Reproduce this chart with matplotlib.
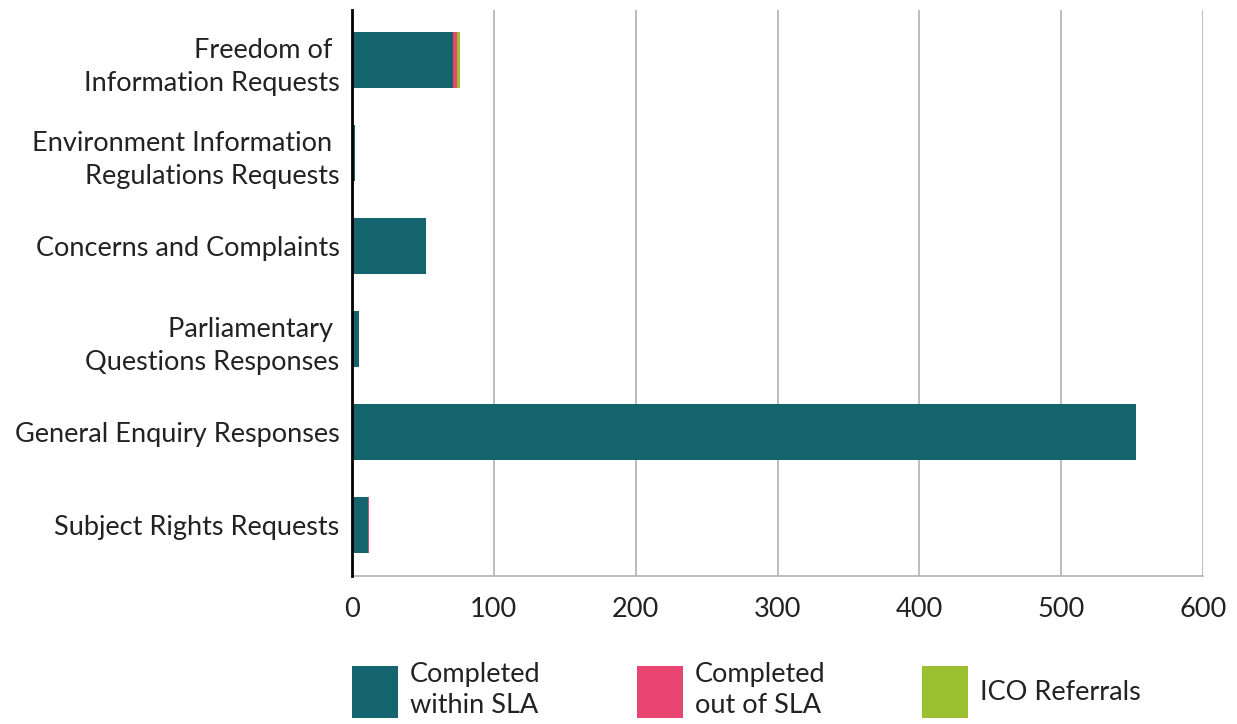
import matplotlib
matplotlib.use("Agg")
import matplotlib.pyplot as plt
from matplotlib.patches import Patch
import numpy as np

# Data
categories = ["Freedom of \nInformation Requests",
              "Environment Information \nRegulations Requests",
              "Concerns and Complaints",
              "Parliamentary \nQuestions Responses",
              "General Enquiry Responses",
              "Subject Rights Requests"]
within_sla = [71, 2, 52, 5, 553, 11]
out_of_sla = [3, 0, 0, 0, 0, 1]
ico_referrals = [2, 0, 0, 0, 0, 0]
series_names = ["Completed\nwithin SLA", "Completed\nout of SLA", "ICO Referrals"]
colors = ["#14646E", "#E94571", "#9BC131"]
x_ticks = [0, 100, 200, 300, 400, 500, 600]

plt.rcParams["font.family"] = ["Lato", "DejaVu Sans"]
fs = 19.5

fig = plt.figure(figsize=(12.37, 7.24), dpi=100)
ax = fig.add_axes([352 / 1237, 1 - 576 / 724, (1203 - 352) / 1237, (576 - 10) / 724])

y = np.arange(len(categories))
left = np.zeros(len(categories))
for vals, col in zip([within_sla, out_of_sla, ico_referrals], colors):
    ax.barh(y, vals, left=left, height=0.6, color=col, zorder=3)
    left = left + np.array(vals)

ax.set_ylim(len(categories) - 0.45, -0.54)
ax.set_xlim(0, 600)
ax.set_xticks(x_ticks)
ax.set_yticks(y)
ax.set_yticklabels(categories, fontsize=fs, color="#222222", linespacing=1.4)
ax.tick_params(axis="x", labelsize=fs, colors="#222222", length=0, pad=15)
ax.tick_params(axis="y", length=0, pad=9)

ax.grid(axis="x", color="#B0B0B0", linewidth=1.2, zorder=0)
for s in ["top", "right"]:
    ax.spines[s].set_visible(False)
ax.spines["bottom"].set_color("#B0B0B0")
ax.spines["bottom"].set_linewidth(1.2)
ax.spines["left"].set_color("black")
ax.spines["left"].set_linewidth(2)
ax.spines["left"].set_zorder(4)

handles = [Patch(facecolor=c, edgecolor="none") for c in colors]
fig.legend(handles, series_names, loc="upper left",
           bbox_to_anchor=(352 / 1237, 1 - 662 / 724), ncol=3, frameon=False,
           fontsize=fs, handlelength=1.7, handleheight=2.6, handletextpad=0.45,
           columnspacing=3.55, borderpad=0, borderaxespad=0, labelspacing=0)
for t in fig.legends[0].get_texts():
    t.set_color("#222222")
    t.set_linespacing(1.3)

fig.savefig("out.png", dpi=100)
